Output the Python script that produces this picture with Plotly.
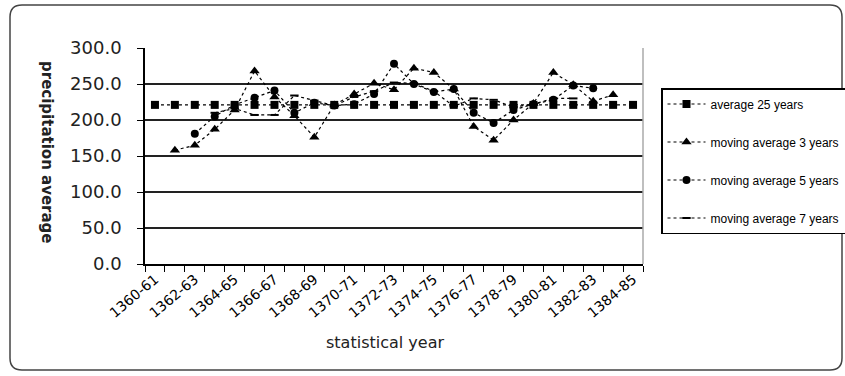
import plotly.graph_objects as go

years = ["1360-61","1361-62","1362-63","1363-64","1364-65","1365-66","1366-67","1367-68",
         "1368-69","1369-70","1370-71","1371-72","1372-73","1373-74","1374-75","1375-76",
         "1376-77","1377-78","1378-79","1379-80","1380-81","1381-82","1382-83","1383-84","1384-85"]

avg25 = [221.0] * 25
ma3 = [None, 158, 165, 187, 214, 268, 232, 206, 176, 221, 236, 251, 242, 272, 266, 243,
       191, 172, 200, 223, 266, 249, 226, 235, None]
ma5 = [None, None, 181, 205, 221, 231, 241, 210, 224, 220, 222, 236, 278, 250, 239, 243,
       210, 196, 214, 222, 228, 248, 244, None, None]
ma7 = [None, None, None, 210, 216, 207, 207, 234, 227, 220, 232, 240, 252, 251, 240, 219,
       230, 228, 218, 222, 230, 230, None, None, None]

series_names = ["average 25 years", "moving average 3 years", "moving average 5 years", "moving average 7 years"]
y_ticks = [0, 50, 100, 150, 200, 250, 300]

xpos = list(range(len(years)))

fig = go.Figure()
styles = [
    dict(symbol="square", size=8),
    dict(symbol="triangle-up", size=9),
    dict(symbol="circle", size=8),
    dict(symbol="line-ew", size=6, line=dict(width=2, color="black")),
]
for i, (name, vals, mk) in enumerate(zip(series_names, [avg25, ma3, ma5, ma7], styles)):
    fig.add_trace(go.Scatter(
        x=xpos, y=vals, name=name, mode="lines+markers",
        line=dict(color="black", width=1.2, dash="dot"),
        marker=dict(color="black", **mk),
        connectgaps=False, legendgroup=f"g{i}",
    ))

L, R, T, B = 145, 643, 48, 264
W, H = 845, 376

def px2x(p):
    return (p - L) / (R - L)

def py2y(p):
    return (B - p) / (B - T)

x0, x1 = px2x(10), px2x(842)
y0, y1 = py2y(370), py2y(5)
rx, ry = 12 / (R - L), 12 / (B - T)
path = (f"M {x0+rx},{y1} L {x1-rx},{y1} Q {x1},{y1} {x1},{y1-ry} L {x1},{y0+ry} "
        f"Q {x1},{y0} {x1-rx},{y0} L {x0+rx},{y0} Q {x0},{y0} {x0},{y0+ry} "
        f"L {x0},{y1-ry} Q {x0},{y1} {x0+rx},{y1} Z")

fig.update_layout(
    width=W, height=H,
    margin=dict(l=L, r=W - R, t=T, b=H - B, pad=0, autoexpand=False),
    paper_bgcolor="white", plot_bgcolor="white",
    font=dict(family="DejaVu Sans", color="black"),
    showlegend=True,
    legend=dict(
        x=px2x(661), y=py2y(88), xanchor="left", yanchor="top",
        bordercolor="black", borderwidth=1.5, bgcolor="white",
        font=dict(family="Liberation Sans, Arial", size=12),
        tracegroupgap=19, itemwidth=38,
    ),
    xaxis=dict(
        range=[-0.5, len(years) - 0.5], automargin=False,
        tickvals=xpos[::2], ticktext=years[::2],
        tickangle=-40, ticks="", showgrid=False, zeroline=False,
        showline=True, linecolor="black", linewidth=1.5,
        tickfont=dict(family="DejaVu Sans", size=14),
        minor=dict(tickvals=[i - 0.5 for i in range(len(years) + 1)], ticks="outside",
                   ticklen=6, tickcolor="black", tickwidth=1.2, showgrid=False),
    ),
    yaxis=dict(
        range=[0, 300], tickvals=y_ticks, tickformat=".1f", automargin=False,
        ticks="outside", ticklen=6, tickcolor="black", tickwidth=1.2,
        ticklabelstandoff=12,
        showgrid=True, gridcolor="#222", gridwidth=1.5, zeroline=False,
        showline=True, linecolor="black", linewidth=1.5,
        tickfont=dict(family="DejaVu Sans", size=18, color="#222"),
    ),
    shapes=[
        dict(type="path", xref="paper", yref="paper", path=path,
             line=dict(color="#444", width=1.5), fillcolor="rgba(0,0,0,0)", layer="below"),
        dict(type="line", xref="paper", yref="paper", x0=1, x1=1, y0=0, y1=1,
             line=dict(color="#aaa", width=1.5)),
    ],
    annotations=[
        dict(text="<b>precipitation average</b>", xref="paper", yref="paper",
             x=px2x(36), y=py2y(152), textangle=90, showarrow=False,
             font=dict(family="DejaVu Sans", size=15, color="#222")),
        dict(text="statistical year", xref="paper", yref="paper",
             x=px2x(385), y=py2y(354), showarrow=False,
             font=dict(family="DejaVu Sans", size=16, color="#222")),
    ],
)

fig.write_html("out.html", config={"displayModeBar": False},
               post_script="document.body.style.margin='0';")
